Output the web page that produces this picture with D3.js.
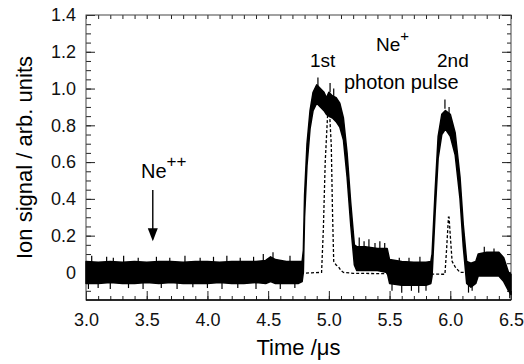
<!DOCTYPE html>
<html>
<head>
<meta charset="utf-8">
<script src="https://cdn.jsdelivr.net/npm/d3@7"></script>
<style>
  body { margin: 0; background: #fff; }
  svg { font-family: "Liberation Sans", Arial, sans-serif; }
</style>
</head>
<body>
<div id="chart"><svg width="524" height="364"></svg></div>
<script>
// solid trace (Ne+ / Ne++ with both pulses), drawn as a noisy band
const bandT  = [3.00, 3.10, 3.20, 3.30, 3.40, 3.50, 3.60, 3.70, 3.80, 3.90, 4.00, 4.10, 4.20, 4.30, 4.40, 4.48, 4.52, 4.56, 4.65, 4.75,
  4.78, 4.79, 4.80, 4.82, 4.845, 4.87, 4.90, 4.93, 4.96, 4.98, 5.00, 5.03, 5.06, 5.09, 5.12, 5.15, 5.18, 5.21, 5.23,
  5.30, 5.40, 5.48, 5.50, 5.60, 5.70, 5.80, 5.84, 5.85, 5.875, 5.90, 5.93, 5.96, 6.00, 6.04, 6.08, 6.107, 6.135,
  6.17, 6.21, 6.23, 6.30, 6.40, 6.44, 6.48, 6.50];
const bandHi = [0.06, 0.055, 0.06, 0.055, 0.06, 0.055, 0.06, 0.06, 0.055, 0.06, 0.06, 0.055, 0.06, 0.06, 0.06, 0.065, 0.085, 0.07, 0.06, 0.06,
  0.06, 0.12, 0.42, 0.70, 0.88, 0.98, 1.02, 1.00, 0.98, 0.95, 0.98, 0.96, 0.95, 0.92, 0.84, 0.65, 0.38, 0.15, 0.14,
  0.14, 0.13, 0.13, 0.07, 0.06, 0.055, 0.055, 0.06, 0.10, 0.44, 0.74, 0.86, 0.88, 0.86, 0.76, 0.52, 0.26, 0.06,
  0.05, 0.06, 0.10, 0.11, 0.11, 0.08, 0.0, -0.01];
const bandLo = [-0.06, -0.06, -0.055, -0.06, -0.06, -0.055, -0.06, -0.055, -0.06, -0.06, -0.06, -0.055, -0.06, -0.06, -0.055, -0.06, -0.05, -0.06, -0.06, -0.06,
  -0.05, 0.0, 0.30, 0.58, 0.78, 0.88, 0.92, 0.90, 0.88, 0.86, 0.85, 0.84, 0.82, 0.79, 0.72, 0.52, 0.26, 0.04, 0.01,
  0.01, 0.01, 0.0, -0.06, -0.07, -0.07, -0.07, -0.06, -0.02, 0.32, 0.62, 0.75, 0.78, 0.74, 0.64, 0.40, 0.14, -0.06,
  -0.08, -0.06, -0.02, -0.02, -0.02, -0.05, -0.10, -0.12];

// noise spikes sticking out of the band
const spikeT = [3.047, 3.17, 3.225, 3.31, 3.43, 3.58, 3.69, 3.815, 3.94, 4.05, 4.16, 4.27, 4.38, 4.46, 4.54, 4.68,
  5.25, 5.29, 5.33, 5.38, 5.42, 5.46, 5.58, 5.66, 5.75, 4.91, 5.01, 5.04, 5.956, 5.99, 6.28, 6.36,
  3.02, 3.10, 3.20, 3.35, 3.47, 3.62, 3.75, 3.88, 4.00, 4.12, 4.25, 4.40, 4.60, 4.72,
  5.52, 5.60, 5.68, 5.74, 5.80, 6.15, 6.18, 6.49];
const spikeV = [0.09, 0.085, 0.08, 0.09, 0.08, 0.085, 0.08, 0.09, 0.08, 0.085, 0.09, 0.08, 0.085, 0.10, 0.11, 0.09,
  0.19, 0.17, 0.18, 0.16, 0.17, 0.16, 0.08, 0.08, 0.085, 1.06, 1.03, 1.00, 0.94, 0.90, 0.14, 0.13,
  -0.09, -0.085, -0.09, -0.085, -0.09, -0.085, -0.09, -0.08, -0.085, -0.09, -0.085, -0.09, -0.09, -0.085,
  -0.10, -0.11, -0.10, -0.11, -0.10, -0.11, -0.10, -0.14];

// dashed trace (narrow peaks)
const dashT = [3.00, 4.78, 4.86, 4.94, 4.955, 4.97, 4.99, 5.004, 5.02, 5.03, 5.04, 5.06, 5.08, 5.10, 5.12, 5.20,
  5.95, 5.956, 5.97, 5.985, 5.99, 6.00, 6.015, 6.04, 6.08, 6.50];
const dashV = [-0.005, -0.005, -0.002, 0.0, 0.24, 0.60, 0.86, 0.89, 0.69, 0.33, 0.06, 0.04, 0.03, 0.01, 0.0, -0.005,
  -0.01, -0.01, 0.13, 0.30, 0.30, 0.20, 0.06, 0.03, 0.0, 0.0];

const xMajor = [3.0, 3.5, 4.0, 4.5, 5.0, 5.5, 6.0, 6.5];
const yMajor = [0, 0.2, 0.4, 0.6, 0.8, 1.0, 1.2, 1.4];

const SVG = d3.select('#chart svg');
const LEFT = 86, RIGHT = 511, TOP = 15, BOTTOM = 300;

const X_SCALE = d3.scaleLinear().domain([3.0, 6.5]).range([LEFT, RIGHT]);
const Y_SCALE = d3.scaleLinear().domain([-0.15, 1.4]).range([BOTTOM, TOP]);

const xMinor = d3.range(30, 66).map(d => d / 10);
const yMinor = d3.range(-2, 29).map(d => d * 0.05);

// axes, ticks pointing inward
SVG.append('g')
  .attr('transform', `translate(0,${BOTTOM})`)
  .call(d3.axisBottom(X_SCALE).tickValues(xMinor).tickSize(-4).tickFormat(''));
SVG.append('g')
  .attr('class', 'xAxis')
  .attr('transform', `translate(0,${BOTTOM})`)
  .call(d3.axisBottom(X_SCALE).tickValues(xMajor).tickSize(-9).tickPadding(13).tickFormat(d3.format('.1f')));
SVG.append('g')
  .attr('transform', `translate(0,${TOP})`)
  .call(d3.axisTop(X_SCALE).tickValues(xMinor).tickSize(-4).tickFormat(''));

SVG.append('g')
  .attr('transform', `translate(${LEFT},0)`)
  .call(d3.axisLeft(Y_SCALE).tickValues(yMinor).tickSize(-5).tickFormat(''));
SVG.append('g')
  .attr('class', 'yAxis')
  .attr('transform', `translate(${LEFT},0)`)
  .call(d3.axisLeft(Y_SCALE).tickValues(yMajor).tickSize(-9).tickPadding(10)
    .tickFormat(d => d === 0 ? '0' : d3.format('.1f')(d)));
SVG.append('g')
  .attr('transform', `translate(${RIGHT},0)`)
  .call(d3.axisRight(Y_SCALE).tickValues(yMinor).tickSize(-4).tickFormat(''));
SVG.append('g')
  .attr('transform', `translate(${RIGHT},0)`)
  .call(d3.axisRight(Y_SCALE).tickValues(yMajor).tickSize(-9).tickFormat(''));

SVG.selectAll('.domain').remove();
SVG.selectAll('.tick line').style('stroke', '#222');
SVG.selectAll('.xAxis text, .yAxis text')
  .style('font-size', '18px')
  .style('fill', '#111');

// frame
SVG.append('rect')
  .attr('x', LEFT).attr('y', TOP)
  .attr('width', RIGHT - LEFT).attr('height', BOTTOM - TOP)
  .style('fill', 'none').style('stroke', '#444').style('stroke-width', 1);
SVG.append('line')
  .attr('x1', LEFT).attr('x2', RIGHT).attr('y1', BOTTOM).attr('y2', BOTTOM)
  .style('stroke', '#000').style('stroke-width', 1.6);

// solid band
const band = bandT.map((t, i) => ({ t: t, hi: bandHi[i], lo: bandLo[i] }));
SVG.append('path')
  .datum(band)
  .attr('d', d3.area().x(d => X_SCALE(d.t)).y0(d => Y_SCALE(d.lo)).y1(d => Y_SCALE(d.hi)))
  .style('fill', '#000')
  .style('stroke', '#000')
  .style('stroke-width', 1.5)
  .style('stroke-linejoin', 'round');

SVG.append('g')
  .selectAll('line')
  .data(spikeT.map((t, i) => ({ t: t, v: spikeV[i] })))
  .join('line')
  .attr('x1', d => X_SCALE(d.t))
  .attr('x2', d => X_SCALE(d.t))
  .attr('y1', d => Y_SCALE(d.v))
  .attr('y2', d => Y_SCALE(d.v > 0 ? d.v - 0.05 : d.v + 0.05))
  .style('stroke', '#000')
  .style('stroke-width', 1.2);

// dashed trace
SVG.append('path')
  .datum(dashT.map((t, i) => ({ t: t, v: dashV[i] })))
  .attr('d', d3.line().x(d => X_SCALE(d.t)).y(d => Y_SCALE(d.v)))
  .style('fill', 'none')
  .style('stroke', '#000')
  .style('stroke-width', 1.3)
  .style('stroke-dasharray', '3,2');

// axis titles
SVG.append('text')
  .text('Time /μs')
  .attr('x', (LEFT + RIGHT) / 2)
  .attr('y', 355)
  .style('text-anchor', 'middle')
  .style('font-size', '22px');
SVG.append('text')
  .text('Ion signal / arb. units')
  .attr('transform', `translate(32,${(TOP + BOTTOM) / 2}) rotate(-90)`)
  .style('text-anchor', 'middle')
  .style('font-size', '22px');

// annotations
const note = SVG.append('g').style('font-size', '19px');
note.append('text').attr('x', 141).attr('y', 178).style('font-size', '20px').text('Ne')
  .append('tspan').attr('dy', -11).style('font-size', '17px').text('++');
note.append('text').attr('x', 376).attr('y', 51).style('font-size', '19px').text('Ne')
  .append('tspan').attr('dy', -10).style('font-size', '15px').text('+');
note.append('text').attr('x', 310).attr('y', 67).text('1st');
note.append('text').attr('x', 437).attr('y', 67).text('2nd');
note.append('text').attr('x', 344).attr('y', 89).style('font-size', '20px').text('photon pulse');

// arrow to Ne++ position
const ax = X_SCALE(3.55);
SVG.append('line')
  .attr('x1', ax).attr('x2', ax)
  .attr('y1', 190).attr('y2', Y_SCALE(0.18))
  .style('stroke', '#000').style('stroke-width', 1.4);
SVG.append('path')
  .attr('d', `M${ax - 5},${Y_SCALE(0.24)} L${ax + 5},${Y_SCALE(0.24)} L${ax},${Y_SCALE(0.17)} Z`)
  .style('fill', '#000');
</script>
</body>
</html>
